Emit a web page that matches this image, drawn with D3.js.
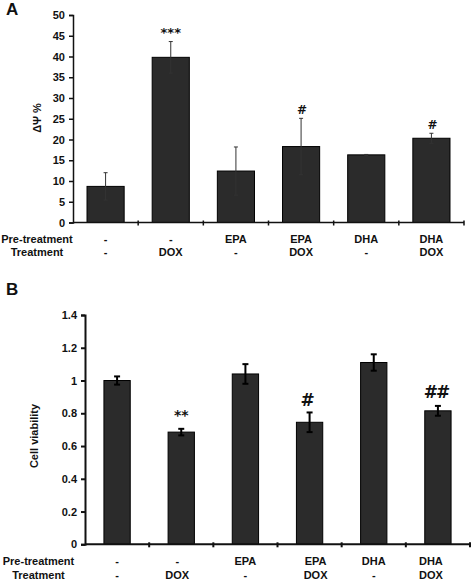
<!DOCTYPE html>
<html><head><meta charset="utf-8">
<script src="https://cdn.jsdelivr.net/npm/d3@7"></script>
<style>body{margin:0;background:#fff}svg{display:block}text{font-family:"Liberation Sans",Arial,sans-serif;font-weight:bold;fill:#111}</style>
</head><body>
<script>
const categories = ["1","2","3","4","5","6"];
const pretreatment = ["-","-","EPA","EPA","DHA","DHA"];
const treatment = ["-","DOX","-","DOX","-","DOX"];
// Panel A: ΔΨ %
const valuesA = [8.7, 39.8, 12.4, 18.3, 16.3, 20.3];
const errorsA = [3.3, 3.8, 5.8, 6.8, 0.1, 1.2];
const marksA = ["", "***", "", "#", "", "#"];
const ticksA = [0,5,10,15,20,25,30,35,40,45,50];
// Panel B: Cell viability
const valuesB = [1.00, 0.685, 1.04, 0.745, 1.11, 0.815];
const errorsB = [0.025, 0.02, 0.06, 0.06, 0.05, 0.03];
const marksB = ["", "**", "", "#", "", "##"];
const ticksB = [0,0.2,0.4,0.6,0.8,1,1.2,1.4];

const svg = d3.select("body").append("svg").attr("width",472).attr("height",581);

function panel(o){
  const g = svg.append("g");
  const x = d3.scaleBand().domain(categories).range([o.x0,o.x1]).paddingInner(o.pad).paddingOuter(o.pad/2);
  const y = d3.scaleLinear().domain(o.domain).range([o.y0,o.y1]);
  g.selectAll("rect.bar").data(o.values).join("rect")
    .attr("x",(d,i)=>x(categories[i])).attr("width",x.bandwidth())
    .attr("y",d=>y(d)).attr("height",d=>y(0)-y(d))
    .attr("fill","#2b2b2b").attr("stroke","#000").attr("stroke-width",1);
  o.values.forEach((v,i)=>{
    const cx = x(categories[i])+x.bandwidth()/2, e=o.errors[i];
    const gg = g.append("g").attr("stroke",o.ecol).attr("stroke-width",o.ew);
    gg.append("line").attr("x1",cx).attr("x2",cx).attr("y1",y(v+e)).attr("y2",y(v-e));
    gg.append("line").attr("x1",cx-o.cap).attr("x2",cx+o.cap).attr("y1",y(v+e)).attr("y2",y(v+e));
    gg.append("line").attr("x1",cx-o.cap).attr("x2",cx+o.cap).attr("y1",y(v-e)).attr("y2",y(v-e));
    if(o.marks[i]){
      g.append("text").attr("x",cx+o.markDx[i]).attr("y",y(v+e)-o.markGap[i])
        .attr("text-anchor","middle").style("font-family",'"DejaVu Sans",sans-serif')
        .style("letter-spacing",o.marks[i]==="##"?"-2px":"0px")
        .style("font-size",o.markSize[i]+"px").text(o.marks[i]);
    }
  });
  const ya = g.append("g").attr("transform",`translate(${o.x0},0)`)
    .call(d3.axisLeft(y).tickValues(o.ticks).tickSize(4).tickPadding(4).tickFormat(o.fmt));
  ya.selectAll("text").style("font-size","11px").style("font-weight","bold").style("font-family",'"Liberation Sans",Arial,sans-serif').attr("fill","#111");
  ya.selectAll("line,path").attr("stroke","#111").attr("stroke-width",o.aw);
  const xa = g.append("g").attr("stroke","#111").attr("stroke-width",o.aw);
  xa.append("line").attr("x1",o.x0).attr("x2",o.x1).attr("y1",y(0)).attr("y2",y(0));
  d3.range(1,categories.length+1).forEach(k=>{
    const bx = o.x0 + x.step()*k;
    xa.append("line").attr("x1",bx).attr("x2",bx).attr("y1",y(0)-2).attr("y2",y(0)+3);
  });
  g.append("text").attr("transform",`translate(${o.ylx},${o.yly}) rotate(-90)`)
    .attr("text-anchor","middle").style("font-size","11px").text(o.ylabel);
  g.append("text").attr("x",o.rowLabX).attr("y",o.row1).attr("text-anchor","middle").style("font-size","11px").text("Pre-treatment");
  g.append("text").attr("x",o.rowLabX).attr("y",o.row2).attr("text-anchor","middle").style("font-size","11px").text("Treatment");
  categories.forEach((c,i)=>{
    const cx = x(c)+x.bandwidth()/2;
    g.append("text").attr("x",cx+o.labDx[i]).attr("y",o.row1).attr("text-anchor","middle").style("font-size","11px").text(pretreatment[i]);
    g.append("text").attr("x",cx+o.labDx[i]).attr("y",o.row2).attr("text-anchor","middle").style("font-size","11px").text(treatment[i]);
  });
  g.append("text").attr("x",6).attr("y",o.letterY).style("font-size","17px").text(o.letter);
}

panel({x0:73,x1:464,y0:222.5,y1:15,domain:[0,50],pad:0.43,values:valuesA,errors:errorsA,marks:marksA,
  markDx:[0,0,0,1,0,1],markSize:[0,13,0,12,0,12],markGap:[0,5,0,4,0,4],
  ticks:ticksA,fmt:d3.format("d"),ecol:"#333",ew:1,cap:2,aw:1.5,ylabel:"ΔΨ %",ylx:41,yly:118,
  rowLabX:37,row1:243,row2:256,labDx:[0,0,0,0,0,0],letter:"A",letterY:15});

panel({x0:85,x1:470,y0:544.3,y1:315,domain:[0,1.4],pad:0.59,values:valuesB,errors:errorsB,marks:marksB,
  markDx:[0,0,0,-2,0,-2],markSize:[0,14,0,17,0,17],markGap:[0,9,0,6,0,8],
  ticks:ticksB,fmt:d=>d3.format("")(+d.toFixed(1)),ecol:"#000",ew:2,cap:3,aw:2,ylabel:"Cell viability",ylx:38,yly:436,
  rowLabX:38.5,row1:565,row2:579,labDx:[0,-4,0,6,0,-7],letter:"B",letterY:295});
</script>
</body></html>
